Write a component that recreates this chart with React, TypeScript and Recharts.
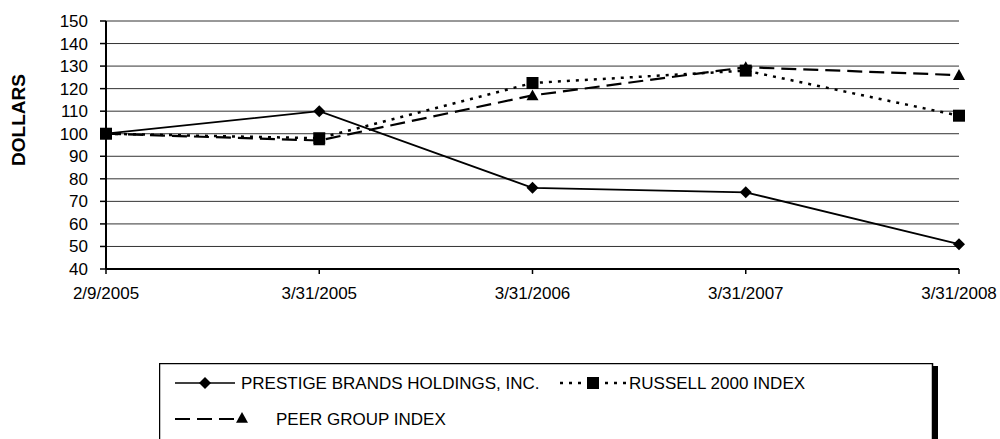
import React from "react";
import { LineChart, Line, XAxis, YAxis, CartesianGrid, Legend } from "recharts";

const dates = ["2/9/2005", "3/31/2005", "3/31/2006", "3/31/2007", "3/31/2008"];
const prestige = [100, 110, 76, 74, 51];
const russell = [100, 98, 122.5, 128, 108];
const peer = [100, 97, 117, 129.5, 126];
const yTicks = [40, 50, 60, 70, 80, 90, 100, 110, 120, 130, 140, 150];

const names = {
    prestige: "PRESTIGE BRANDS HOLDINGS, INC.",
    russell: "RUSSELL 2000 INDEX",
    peer: "PEER GROUP INDEX",
};

const data = dates.map((d, i) => ({ date: d, prestige: prestige[i], russell: russell[i], peer: peer[i] }));

const FONT = "'Liberation Sans', Arial, sans-serif";

const diamond = (cx: number, cy: number, r = 6) =>
    `${cx},${cy - r} ${cx + r},${cy} ${cx},${cy + r} ${cx - r},${cy}`;
const triangle = (cx: number, cy: number, r = 6) =>
    `${cx},${cy - r} ${cx + r},${cy + r * 0.8} ${cx - r},${cy + r * 0.8}`;

const DiamondDot = (p: any) => <polygon key={`d-${p.index}`} points={diamond(p.cx, p.cy)} fill="#000" />;
const SquareDot = (p: any) => (
    <rect key={`s-${p.index}`} x={p.cx - 6} y={p.cy - 6} width={12} height={12} fill="#000" />
);
const TriangleDot = (p: any) => <polygon key={`t-${p.index}`} points={triangle(p.cx, p.cy)} fill="#000" />;

function LegendBox() {
    const y1 = 20;
    const y2 = 56;
    return (
        <svg width={790} height={80} style={{ display: "block", fontFamily: FONT }}>
            <rect x={773} y={3} width={6} height={80} fill="#000" />
            <rect x={0.5} y={0.5} width={773} height={90} fill="#fff" stroke="#000" strokeWidth={1.5} />
            <line x1={16} x2={76} y1={y1} y2={y1} stroke="#000" strokeWidth={1.5} />
            <polygon points={diamond(46, y1)} fill="#000" />
            <text x={82} y={y1} dy="0.36em" fontSize={17}>{names.prestige}</text>
            <line x1={401} x2={468} y1={y1} y2={y1} stroke="#000" strokeWidth={2.5} strokeDasharray="3 6" />
            <rect x={428} y={y1 - 6} width={12} height={12} fill="#000" />
            <text x={470} y={y1} dy="0.36em" fontSize={17}>{names.russell}</text>
            <line x1={16} x2={76} y1={y2} y2={y2} stroke="#000" strokeWidth={2} strokeDasharray="15 7" />
            <polygon points={triangle(83, y2 - 1)} fill="#000" />
            <text x={117} y={y2} dy="0.36em" fontSize={17}>{names.peer}</text>
        </svg>
    );
}

export default function App() {
    return (
        <div style={{ position: "absolute", left: 0, top: 0, width: 1000, height: 439, overflow: "hidden", background: "#fff" }}>
            <LineChart width={1000} height={439} data={data} margin={{ top: 21, right: 41, left: 0, bottom: 130 }}>
                <CartesianGrid yAxisId="left" horizontal vertical={false} stroke="#333" strokeWidth={1} />
                <XAxis
                    dataKey="date"
                    height={40}
                    stroke="#000"
                    strokeWidth={2}
                    tickSize={5}
                    tickMargin={13}
                    tick={{ fill: "#000", fontSize: 17, fontFamily: FONT }}
                    tickLine={{ stroke: "#000", strokeWidth: 1.5 }}
                    interval={0}
                />
                <YAxis
                    yAxisId="left"
                    width={106}
                    domain={[40, 150]}
                    ticks={yTicks}
                    interval={0}
                    stroke="#000"
                    strokeWidth={2}
                    tickSize={6}
                    tickMargin={12}
                    tick={{ fill: "#000", fontSize: 17, fontFamily: FONT }}
                    tickLine={{ stroke: "#000", strokeWidth: 1.5 }}
                    label={(props: any) => {
                        const vb = props.viewBox;
                        const cx = vb.x + 18;
                        const cy = vb.y + 99;
                        return (
                            <text
                                x={cx}
                                y={cy}
                                transform={`rotate(-90 ${cx} ${cy})`}
                                textAnchor="middle"
                                dominantBaseline="central"
                                fontSize={19}
                                fontWeight="bold"
                                fontFamily={FONT}
                                fill="#000"
                            >
                                DOLLARS
                            </text>
                        );
                    }}
                />
                <YAxis yAxisId="right" orientation="right" width={0} domain={[40, 150]} tick={false} tickLine={false} stroke="#000" strokeWidth={2} />
                <Line
                    yAxisId="left"
                    dataKey="prestige"
                    name={names.prestige}
                    stroke="#000"
                    strokeWidth={1.8}
                    dot={DiamondDot}
                    isAnimationActive={false}
                />
                <Line
                    yAxisId="left"
                    dataKey="peer"
                    name={names.peer}
                    stroke="#000"
                    strokeWidth={2.2}
                    strokeDasharray="15 7"
                    dot={TriangleDot}
                    isAnimationActive={false}
                />
                <Line
                    yAxisId="left"
                    dataKey="russell"
                    name={names.russell}
                    stroke="#000"
                    strokeWidth={2.5}
                    strokeDasharray="3 6"
                    dot={SquareDot}
                    isAnimationActive={false}
                />
                <Legend
                    layout="vertical"
                    verticalAlign="middle"
                    align="center"
                    wrapperStyle={{ left: 159, top: 363, width: 790, height: 80 }}
                    content={() => <LegendBox />}
                />
            </LineChart>
        </div>
    );
}
